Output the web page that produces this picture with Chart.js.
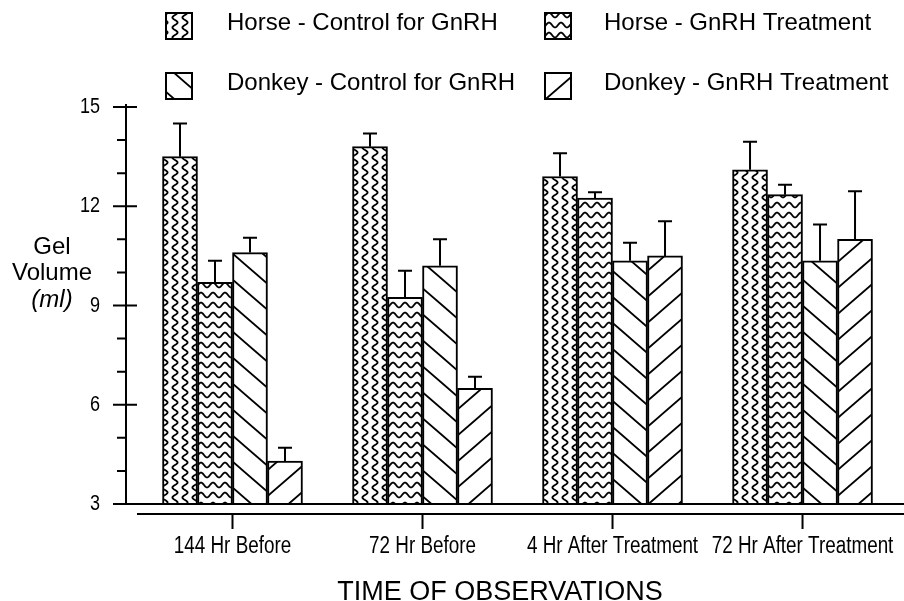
<!DOCTYPE html>
<html>
<head>
<meta charset="utf-8">
<script src="https://cdn.jsdelivr.net/npm/chart.js@4.4.1/dist/chart.umd.min.js"></script>
<style>
  html, body { margin: 0; padding: 0; background: #fff; }
</style>
</head>
<body>
<canvas id="gelChart" width="904" height="601"></canvas>
<script>
// data
const categories = ['144 Hr Before', '72 Hr Before', '4 Hr After Treatment', '72 Hr After Treatment'];
const seriesNames = ['Horse - Control for GnRH', 'Horse - GnRH Treatment', 'Donkey - Control for GnRH', 'Donkey - GnRH Treatment'];
const horseControl  = [13.5, 13.8, 12.9, 13.1];
const horseGnrh     = [9.7, 9.25, 12.25, 12.35];
const donkeyControl = [10.6, 10.2, 10.35, 10.35];
const donkeyGnrh    = [4.3, 6.5, 10.5, 11.0];
const horseControlErr  = [1.0, 0.4, 0.7, 0.85];
const horseGnrhErr     = [0.65, 0.8, 0.17, 0.3];
const donkeyControlErr = [0.45, 0.8, 0.55, 1.1];
const donkeyGnrhErr    = [0.4, 0.35, 1.05, 1.45];
const yTicks = [3, 6, 9, 12, 15];
const yTitle = ['Gel', 'Volume', '(ml)'];
const xTitle = 'TIME OF OBSERVATIONS';

const SANS = '"Liberation Sans", Arial, sans-serif';

// — hatch patterns, black ink on white —
function makePattern(kind) {
  const c = document.createElement('canvas');
  const g = c.getContext('2d');
  let w = 10, h = 10;
  if (kind === 'hwave') { w = 12; h = 10; }
  if (kind === 'back' || kind === 'fwd') { w = 30; h = 26; }
  c.width = w; c.height = h;
  g.fillStyle = '#fff';
  g.fillRect(0, 0, w, h);
  g.strokeStyle = '#000';
  g.lineWidth = 1.8;
  g.beginPath();
  if (kind === 'vwave') {
    for (let y = -1; y <= h + 1; y += 0.5) {
      const x = 5 + 2.6 * Math.sin(2 * Math.PI * y / h);
      y === -1 ? g.moveTo(x, y) : g.lineTo(x, y);
    }
  } else if (kind === 'hwave') {
    for (let x = -1; x <= w + 1; x += 0.5) {
      const y = 5 + 2.4 * Math.sin(2 * Math.PI * x / w);
      x === -1 ? g.moveTo(x, y) : g.lineTo(x, y);
    }
  } else {
    g.lineWidth = 1.8;
    for (const dx of [-w, 0, w]) {
      if (kind === 'back') { g.moveTo(dx - 2, -2 * h / w); g.lineTo(dx + w + 2, h + 2 * h / w); }
      else { g.moveTo(dx - 2, h + 2 * h / w); g.lineTo(dx + w + 2, -2 * h / w); }
    }
  }
  g.stroke();
  return g.createPattern(c, 'repeat');
}

const patterns = [makePattern('vwave'), makePattern('hwave'), makePattern('back'), makePattern('fwd')];
const values = [horseControl, horseGnrh, donkeyControl, donkeyGnrh];
const errors = [horseControlErr, horseGnrhErr, donkeyControlErr, donkeyGnrhErr];

const datasets = values.map((vals, d) => ({
  label: seriesNames[d],
  data: vals.map((v, i) => ({ x: i + 1, y: v })),
  err: errors[d],
  backgroundColor: patterns[d],
  borderColor: '#000',
  borderWidth: 2,
  barThickness: 35
}));

// condensed lettering like the original's tick labels
function narrowText(ctx, text, x, y, size, align) {
  ctx.save();
  ctx.translate(x, y);
  ctx.scale(0.82, 1);
  ctx.font = size + 'px ' + SANS;
  ctx.textAlign = align;
  ctx.textBaseline = 'middle';
  ctx.fillText(text, 0, 0);
  ctx.restore();
}

// — error bars (up only, with a cap) —
const errorBars = {
  id: 'errorBars',
  afterDatasetsDraw(chart) {
    const { ctx, scales: { y } } = chart;
    ctx.save();
    ctx.strokeStyle = '#000';
    ctx.lineWidth = 2;
    chart.data.datasets.forEach((ds, d) => {
      chart.getDatasetMeta(d).data.forEach((bar, i) => {
        const top = y.getPixelForValue(ds.data[i].y + ds.err[i]);
        ctx.beginPath();
        ctx.moveTo(bar.x, bar.y);
        ctx.lineTo(bar.x, top);
        ctx.moveTo(bar.x - 7, top);
        ctx.lineTo(bar.x + 7, top);
        ctx.stroke();
      });
    });
    ctx.restore();
  }
};

// — axis lines, tick marks, tick labels and titles drawn by hand —
const axesDeco = {
  id: 'axesDeco',
  afterDraw(chart) {
    const { ctx, scales: { x, y } } = chart;
    const ax = Math.round(chart.chartArea.left);
    const base = y.getPixelForValue(y.min);
    ctx.save();
    ctx.strokeStyle = '#000';
    ctx.lineWidth = 2;
    ctx.beginPath();
    ctx.moveTo(ax, y.getPixelForValue(y.max) - 3);
    ctx.lineTo(ax, base);
    for (let v = y.min; v <= y.max; v++) {
      const py = y.getPixelForValue(v);
      if (yTicks.includes(v)) { ctx.moveTo(ax - 13, py); ctx.lineTo(ax + 11, py); }
      else { ctx.moveTo(ax - 9, py); ctx.lineTo(ax, py); }
    }
    // main baseline
    ctx.moveTo(ax - 12, base);
    ctx.lineTo(chart.width, base);
    // lower category line
    ctx.moveTo(ax + 11, base + 10);
    ctx.lineTo(chart.width, base + 10);
    x.ticks.forEach(t => {
      const px = x.getPixelForValue(t.value);
      ctx.moveTo(px, base + 10);
      ctx.lineTo(px, base + 25);
    });
    ctx.stroke();

    ctx.fillStyle = '#000';
    y.ticks.forEach(t => narrowText(ctx, String(t.value), 100, y.getPixelForValue(t.value), 22, 'right'));
    x.ticks.forEach(t => narrowText(ctx, categories[t.value - 1], x.getPixelForValue(t.value), 547, 23, 'center'));

    ctx.textAlign = 'center';
    ctx.textBaseline = 'middle';
    const ty = [247, 273, 300];
    yTitle.forEach((t, i) => {
      ctx.font = (i === 2 ? 'italic ' : '') + '24px ' + SANS;
      ctx.fillText(t, 52, ty[i]);
    });
    ctx.font = '27px ' + SANS;
    ctx.textBaseline = 'alphabetic';
    ctx.fillText(xTitle, 500, 600);
    ctx.restore();
  }
};

// — two-column legend with pattern swatches —
const patternLegend = {
  id: 'patternLegend',
  afterDraw(chart) {
    const { ctx } = chart;
    const boxX = [166, 545], textX = [227, 604], rowY = [23, 83];
    ctx.save();
    chart.data.datasets.forEach((ds, d) => {
      const col = d % 2, row = Math.floor(d / 2);
      const bx = boxX[col], by = rowY[row] - 10;
      ctx.fillStyle = ds.backgroundColor;
      ctx.fillRect(bx, by, 26, 26);
      ctx.strokeStyle = '#000';
      ctx.lineWidth = 2;
      ctx.strokeRect(bx, by, 26, 26);
      ctx.fillStyle = '#000';
      ctx.font = '24px ' + SANS;
      ctx.textAlign = 'left';
      ctx.textBaseline = 'middle';
      ctx.fillText(ds.label, textX[col], rowY[row]);
    });
    ctx.restore();
  }
};

const chart = new Chart(document.getElementById('gelChart'), {
  type: 'bar',
  data: { datasets },
  options: {
    responsive: false,
    animation: false,
    layout: { padding: { top: 107, right: 4, left: 0, bottom: 0 } },
    plugins: { legend: { display: false }, tooltip: { enabled: false } },
    scales: {
      x: {
        type: 'linear',
        offset: false,
        min: 0.4395,
        max: 4.513,
        afterBuildTicks: s => { s.ticks = categories.map((c, i) => ({ value: i + 1 })); },
        afterFit: s => { s.height = 97; s.paddingLeft = 0; s.paddingRight = 0; },
        grid: { display: false, drawTicks: false },
        border: { display: false },
        ticks: { display: false }
      },
      y: {
        min: 3,
        max: 15,
        beginAtZero: false,
        afterBuildTicks: s => { s.ticks = yTicks.map(v => ({ value: v })); },
        afterFit: s => { s.width = 126; s.paddingTop = 0; s.paddingBottom = 0; },
        grid: { display: false, drawTicks: false },
        border: { display: false },
        ticks: { display: false }
      }
    }
  },
  plugins: [errorBars, axesDeco, patternLegend]
});
</script>
</body>
</html>
